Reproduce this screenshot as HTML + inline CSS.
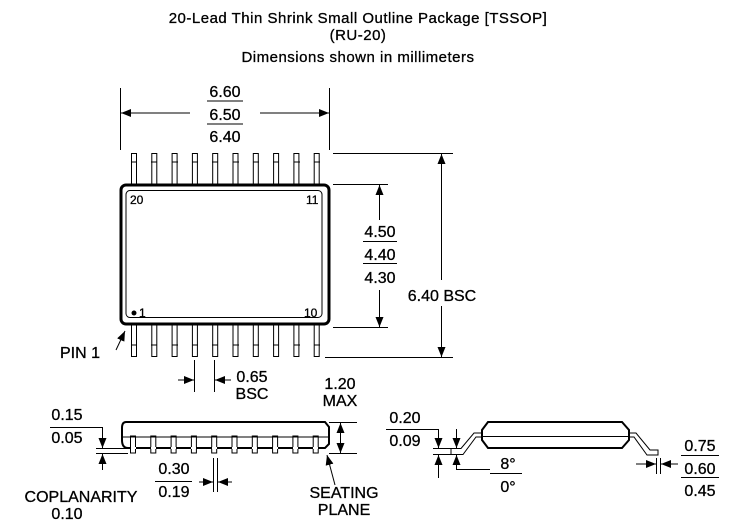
<!DOCTYPE html>
<html><head><style>
html,body{margin:0;padding:0;background:#fff;}
svg{display:block;font-family:"Liberation Sans",sans-serif;}
text{font-size:16px;fill:#000;stroke:#000;stroke-width:0.3;}
.t{font-size:15px;letter-spacing:0.5px;}
</style></head><body>
<svg width="732" height="525" viewBox="0 0 732 525" xmlns="http://www.w3.org/2000/svg">
<defs>
<marker id="a" markerWidth="10" markerHeight="8" refX="10" refY="4" orient="auto" markerUnits="userSpaceOnUse"><path d="M0,0 L10,4 L0,8 z" fill="#000"/></marker>
</defs>
<g text-anchor="middle">
<text class="t" x="358" y="23">20-Lead Thin Shrink Small Outline Package [TSSOP]</text>
<text class="t" x="358" y="40">(RU-20)</text>
<text class="t" x="358" y="62">Dimensions shown in millimeters</text>
<text x="225" y="97">6.60</text>
<text x="225" y="120">6.50</text>
<text x="225" y="142">6.40</text>
</g>
<g stroke="#000" stroke-width="1" fill="none">
<line x1="207" y1="101" x2="243" y2="101"/>
<line x1="207" y1="124" x2="243" y2="124"/>
<line x1="120.5" y1="88" x2="120.5" y2="150"/>
<line x1="329.5" y1="88" x2="329.5" y2="150"/>
<line x1="190" y1="113" x2="121" y2="113" marker-end="url(#a)"/>
<line x1="260" y1="113" x2="329" y2="113" marker-end="url(#a)"/>
</g>
<g stroke="#000" stroke-width="1" fill="#fff">
<rect x="131.5" y="153.5" width="5" height="31"/><rect x="151.8" y="153.5" width="5" height="31"/><rect x="172.1" y="153.5" width="5" height="31"/><rect x="192.4" y="153.5" width="5" height="31"/><rect x="212.7" y="153.5" width="5" height="31"/><rect x="233" y="153.5" width="5" height="31"/><rect x="253.3" y="153.5" width="5" height="31"/><rect x="273.6" y="153.5" width="5" height="31"/><rect x="293.9" y="153.5" width="5" height="31"/><rect x="314.2" y="153.5" width="5" height="31"/>
<rect x="131.5" y="324.5" width="5" height="32"/><rect x="151.8" y="324.5" width="5" height="32"/><rect x="172.1" y="324.5" width="5" height="32"/><rect x="192.4" y="324.5" width="5" height="32"/><rect x="212.7" y="324.5" width="5" height="32"/><rect x="233" y="324.5" width="5" height="32"/><rect x="253.3" y="324.5" width="5" height="32"/><rect x="273.6" y="324.5" width="5" height="32"/><rect x="293.9" y="324.5" width="5" height="32"/><rect x="314.2" y="324.5" width="5" height="32"/>
</g>
<g stroke="#000" stroke-width="1">
<path d="M131,162h6M151,162h6M172,162h6M192,162h6M212,162h6M233,162h6M253,162h6M273,162h6M294,162h6M314,162h6"/>
<path d="M131,345h6M151,345h6M172,345h6M192,345h6M212,345h6M233,345h6M253,345h6M273,345h6M294,345h6M314,345h6"/>
</g>
<rect x="121" y="185" width="208" height="139" rx="5" fill="#fff" stroke="#000" stroke-width="3"/>
<rect x="126" y="190.5" width="196" height="127" rx="4" fill="none" stroke="#000" stroke-width="1"/>
<text x="130" y="204" style="font-size:12px">20</text>
<text x="306" y="204" style="font-size:12px">11</text>
<text x="139" y="317" style="font-size:12px">1</text>
<text x="304" y="317" style="font-size:12px">10</text>
<circle cx="134" cy="313" r="2.5" fill="#000"/>
<text x="60" y="358">PIN 1</text>
<line x1="116" y1="350" x2="125" y2="331" stroke="#000" marker-end="url(#a)"/>
<g stroke="#000" stroke-width="1" fill="none">
<line x1="333" y1="153.5" x2="453" y2="153.5"/>
<line x1="325" y1="357.5" x2="453" y2="357.5"/>
<line x1="441.5" y1="280" x2="441.5" y2="154" marker-end="url(#a)"/>
<line x1="441.5" y1="306" x2="441.5" y2="357" marker-end="url(#a)"/>
<line x1="333" y1="184.5" x2="388" y2="184.5"/>
<line x1="333" y1="327.5" x2="388" y2="327.5"/>
<line x1="379.5" y1="220" x2="379.5" y2="185" marker-end="url(#a)"/>
<line x1="379.5" y1="290" x2="379.5" y2="327" marker-end="url(#a)"/>
<line x1="363" y1="241.5" x2="397" y2="241.5"/>
<line x1="363" y1="263.5" x2="397" y2="263.5"/>
</g>
<g text-anchor="middle">
<text x="380" y="237">4.50</text>
<text x="380" y="260">4.40</text>
<text x="380" y="283">4.30</text>
<text x="442" y="301">6.40 BSC</text>
<text x="252" y="382">0.65</text>
<text x="252" y="399">BSC</text>
</g>
<g stroke="#000" stroke-width="1" fill="none">
<line x1="194.5" y1="360" x2="194.5" y2="392"/>
<line x1="214.5" y1="360" x2="214.5" y2="392"/>
<line x1="178" y1="380" x2="194" y2="380" marker-end="url(#a)"/>
<line x1="231" y1="380" x2="215" y2="380" marker-end="url(#a)"/>
</g>
<g stroke="#000" stroke-width="1" fill="#fff">
<rect x="130.5" y="436" width="5" height="17"/><rect x="150.8" y="436" width="5" height="17"/><rect x="171.1" y="436" width="5" height="17"/><rect x="191.4" y="436" width="5" height="17"/><rect x="211.7" y="436" width="5" height="17"/><rect x="232" y="436" width="5" height="17"/><rect x="252.3" y="436" width="5" height="17"/><rect x="272.6" y="436" width="5" height="17"/><rect x="292.9" y="436" width="5" height="17"/><rect x="313.2" y="436" width="5" height="17"/>
</g>
<path d="M126,422 H325 L329,427 V444 L325,448 H128 Q122,448 122,440 V428 Q122,422 126,422 Z" fill="none" stroke="#000" stroke-width="2"/>
<line x1="122" y1="437" x2="329" y2="437" stroke="#000"/>
<path d="M131,448h5M151,448h5M171,448h5M191,448h5M212,448h5M232,448h5M252,448h5M273,448h5M293,448h5M313,448h5" stroke="#fff" stroke-width="2"/>
<g text-anchor="middle">
<text x="340" y="389">1.20</text>
<text x="340" y="406">MAX</text>
<text x="67" y="420">0.15</text>
<text x="67" y="443">0.05</text>
<text x="174" y="474">0.30</text>
<text x="174" y="497">0.19</text>
<text x="81" y="502">COPLANARITY</text>
<text x="67" y="519">0.10</text>
<text x="344" y="498">SEATING</text>
<text x="344" y="515">PLANE</text>
</g>
<g stroke="#000" stroke-width="1" fill="none">
<line x1="50" y1="427.5" x2="102" y2="427.5"/>
<line x1="155" y1="481.5" x2="192" y2="481.5"/>
<line x1="329" y1="422.5" x2="357" y2="422.5"/>
<line x1="329" y1="453.5" x2="357" y2="453.5"/>
<line x1="340.5" y1="437" x2="340.5" y2="423" marker-end="url(#a)"/>
<line x1="340.5" y1="437" x2="340.5" y2="453" marker-end="url(#a)"/>
<line x1="102.5" y1="427" x2="102.5" y2="448" marker-end="url(#a)"/>
<line x1="96" y1="448.5" x2="128" y2="448.5"/>
<line x1="96" y1="453.5" x2="128" y2="453.5"/>
<line x1="102.5" y1="470" x2="102.5" y2="454" marker-end="url(#a)"/>
<line x1="213.5" y1="458" x2="213.5" y2="492"/>
<line x1="217.5" y1="458" x2="217.5" y2="492"/>
<line x1="199" y1="482" x2="213" y2="482" marker-end="url(#a)"/>
<line x1="232" y1="482" x2="218" y2="482" marker-end="url(#a)"/>
<line x1="335" y1="485" x2="327" y2="455" marker-end="url(#a)"/>
</g>
<g stroke="#000" stroke-width="1" fill="none">
<path d="M451,448.5 H461 L474,433 H483"/>
<path d="M451,454.5 H463 L476,437 H483"/>
<path d="M451,448 V455"/>
<path d="M628,433 H636 L650,450 H658 V455 H647 L634,437 H628"/>
</g>
<path d="M488,422 H622 L629,430 V440 L622,448 H488 L482,440 V430 Z" fill="#fff" stroke="#000" stroke-width="2"/>
<line x1="482" y1="436.5" x2="629" y2="436.5" stroke="#000"/>
<g text-anchor="middle">
<text x="405" y="423">0.20</text>
<text x="405" y="446">0.09</text>
<text x="508" y="469">8°</text>
<text x="508" y="492">0°</text>
<text x="700" y="451">0.75</text>
<text x="700" y="474">0.60</text>
<text x="700" y="496">0.45</text>
</g>
<g stroke="#000" stroke-width="1" fill="none">
<line x1="386" y1="429.5" x2="438" y2="429.5"/>
<line x1="681" y1="455.5" x2="719" y2="455.5"/>
<line x1="681" y1="477.5" x2="719" y2="477.5"/>
<line x1="490" y1="473.5" x2="522" y2="473.5"/>
<line x1="438.5" y1="429" x2="438.5" y2="448" marker-end="url(#a)"/>
<line x1="433" y1="448.5" x2="451" y2="448.5"/>
<line x1="433" y1="454.5" x2="451" y2="454.5"/>
<line x1="438.5" y1="478" x2="438.5" y2="455" marker-end="url(#a)"/>
<line x1="456.5" y1="429" x2="456.5" y2="448" marker-end="url(#a)"/>
<line x1="456.5" y1="470" x2="456.5" y2="455" marker-end="url(#a)"/>
<line x1="456" y1="469.5" x2="490" y2="469.5"/>
<line x1="656.5" y1="458" x2="656.5" y2="474"/>
<line x1="660.5" y1="458" x2="660.5" y2="474"/>
<line x1="636" y1="464" x2="656" y2="464" marker-end="url(#a)"/>
<line x1="678" y1="464" x2="661" y2="464" marker-end="url(#a)"/>
</g>
</svg>
</body></html>
